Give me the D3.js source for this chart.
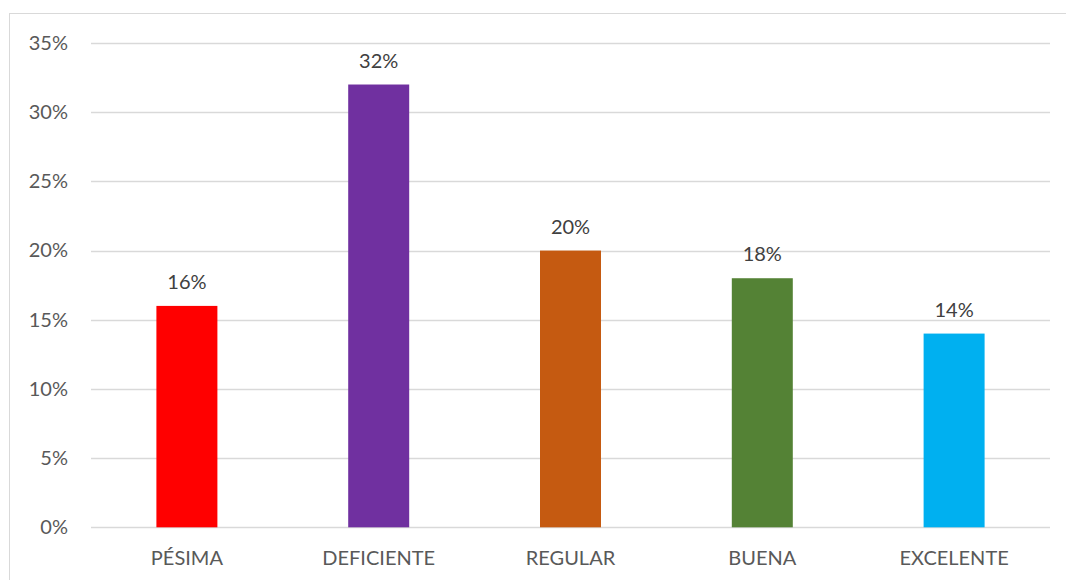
<!DOCTYPE html>
<html><head><meta charset="utf-8">
<script src="https://cdn.jsdelivr.net/npm/d3@7"></script>
<style>body{margin:0;background:#fff}svg{display:block}text{font-family:Lato,"Noto Sans",sans-serif}</style>
</head><body><svg id="c" width="1066" height="580"></svg>
<script>
const categories = ["PÉSIMA","DEFICIENTE","REGULAR","BUENA","EXCELENTE"];
const values = [0.16,0.32,0.20,0.18,0.14];
const colors = ["#FF0000","#7030A0","#C55A11","#548235","#00B0F0"];
const yTicks = [0,0.05,0.10,0.15,0.20,0.25,0.30,0.35];

const svg = d3.select("#c");
svg.append("rect").attr("x",9.5).attr("y",13.5).attr("width",1100).attr("height",600)
  .attr("fill","#fff").attr("stroke","#D9D9D9").attr("stroke-width",1);

const pL=91, pR=1050, pT=43, pB=527.3;
const x = d3.scaleBand().domain(categories).range([pL,pR]).paddingInner(0.682).paddingOuter(0.341);
const y = d3.scaleLinear().domain([0,0.35]).range([pB,pT]);

const grid = svg.append("g");
grid.selectAll("line").data(yTicks).join("line")
  .attr("x1",pL).attr("x2",pR)
  .attr("y1",d=>Math.round(y(d))+0.5).attr("y2",d=>Math.round(y(d))+0.5)
  .attr("stroke","#D9D9D9").attr("stroke-width",1.5);

const yAxis = d3.axisLeft(y).tickValues(yTicks).tickFormat(d3.format(".0%")).tickSize(0).tickPadding(23);
const ya = svg.append("g").attr("transform",`translate(${pL},0)`).call(yAxis);
ya.select(".domain").remove();
ya.selectAll("text").attr("fill","#595959").style("font-size","20px").style("font-family","Lato,'Noto Sans',sans-serif");

svg.append("g").selectAll("rect").data(values).join("rect")
  .attr("x",(d,i)=>x(categories[i]))
  .attr("width",x.bandwidth())
  .attr("y",d=>y(d))
  .attr("height",d=>y(0)-y(d))
  .attr("fill",(d,i)=>colors[i]);

svg.append("g").selectAll("text").data(values).join("text")
  .attr("x",(d,i)=>x(categories[i])+x.bandwidth()/2)
  .attr("y",d=>y(d)-17)
  .attr("text-anchor","middle").attr("fill","#404040").style("font-size","20px")
  .text(d=>d3.format(".0%")(d));

const xAxis = d3.axisBottom(x).tickSize(0).tickPadding(24);
const xa = svg.append("g").attr("transform",`translate(0,${pB})`).call(xAxis);
xa.select(".domain").remove();
xa.selectAll("text").attr("fill","#595959").style("font-size","20px").style("font-family","Lato,'Noto Sans',sans-serif");
</script></body></html>
